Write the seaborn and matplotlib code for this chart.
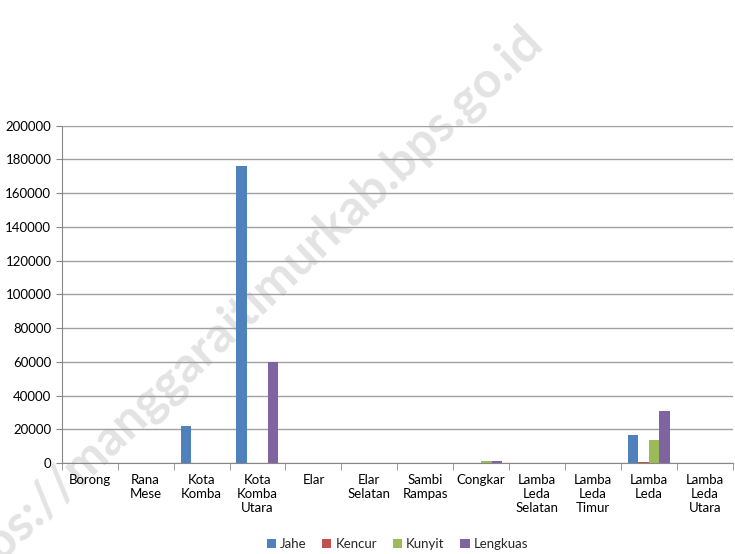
import seaborn as sns
import pandas as pd
import matplotlib.pyplot as plt

kecamatan = ['Borong', 'Rana\nMese', 'Kota\nKomba', 'Kota\nKomba\nUtara', 'Elar', 'Elar\nSelatan',
             'Sambi\nRampas', 'Congkar', 'Lamba\nLeda\nSelatan', 'Lamba\nLeda\nTimur', 'Lamba\nLeda',
             'Lamba\nLeda\nUtara']
jahe = [0, 0, 22000, 176000, 0, 0, 0, 0, 0, 0, 16700, 0]
kencur = [0, 0, 0, 0, 0, 0, 0, 0, 0, 0, 600, 0]
kunyit = [0, 0, 0, 0, 0, 0, 0, 1000, 0, 0, 13700, 0]
lengkuas = [0, 0, 0, 60000, 0, 0, 0, 1200, 0, 0, 30800, 0]
series = ['Jahe', 'Kencur', 'Kunyit', 'Lengkuas']
colors = ['#4f81bd', '#c0504d', '#9bbb59', '#8064a2']

rows = []
for name, vals in zip(series, [jahe, kencur, kunyit, lengkuas]):
    for k, v in zip(kecamatan, vals):
        rows.append({'Kecamatan': k, 'Jenis': name, 'Produksi': v})
df = pd.DataFrame(rows)

sns.set_style('white')
plt.rcParams['font.family'] = ['Lato', 'DejaVu Sans']

fig = plt.figure(figsize=(7.35, 5.54), dpi=100)
ax = fig.add_axes([0.084, 0.164, 0.913, 0.609])
ax.patch.set_alpha(0)
sns.barplot(data=df, x='Kecamatan', y='Produksi', hue='Jenis', palette=colors,
            width=0.75, ax=ax, saturation=1, linewidth=0)

ax.set_ylim(0, 200000)
ax.set_yticks(range(0, 200001, 20000))
ax.yaxis.grid(True, color='#a0a0a0', linewidth=1)
ax.set_axisbelow(True)
ax.set_xlim(-0.5, len(kecamatan) - 0.5)
ax.set_xlabel('')
ax.set_ylabel('')
ax.tick_params(axis='both', labelsize=9.5, colors='black')
ax.tick_params(axis='x', length=0, pad=8)
ax.tick_params(axis='y', length=4, left=True, color='#888888')
# tick marks between categories
ax.set_xticks([i + 0.5 for i in range(-1, len(kecamatan))], minor=True)
ax.tick_params(axis='x', which='minor', length=5, bottom=True, color='#888888')
for side in ['top', 'right']:
    ax.spines[side].set_visible(False)
for side in ['left', 'bottom']:
    ax.spines[side].set_color('#888888')

ax.legend(loc='center', bbox_to_anchor=(0.5, -0.24), ncol=4, frameon=False,
          fontsize=9.5, handlelength=0.7, handleheight=0.7, handletextpad=0.3, columnspacing=1.2)

# watermark, behind the chart
fig.text(0.741, 0.919, 'https://manggaraitimurkab.bps.go.id', rotation=43.5, fontsize=36,
         fontweight='bold', color='#e3e3e3', ha='right', va='baseline',
         rotation_mode='anchor', zorder=-1)

fig.savefig('out.png', dpi=100)
